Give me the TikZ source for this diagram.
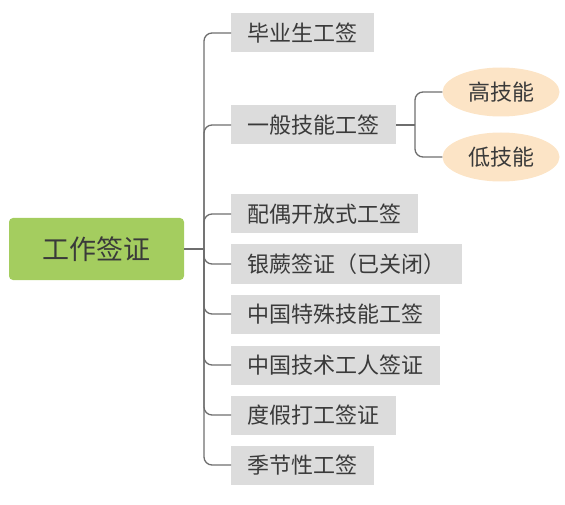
\documentclass[tikz,border=0pt]{standalone}
\usepackage{fontspec}
\setmainfont{Noto Sans CJK SC}
\usetikzlibrary{shapes.geometric}
\definecolor{rootgreen}{HTML}{A4CD5F}
\definecolor{boxgray}{HTML}{DCDCDC}
\definecolor{peach}{HTML}{FCE4C6}
\definecolor{txt}{HTML}{3A3A3A}
\definecolor{linegray}{HTML}{6E6E6E}
\begin{document}
\begin{tikzpicture}[x=1pt,y=-1pt,
  rootbox/.style={fill=rootgreen, rounded corners=4pt, minimum width=175pt, minimum height=62pt, inner sep=0pt, text=txt, font=\fontsize{27}{29}\selectfont},
  leafbox/.style={fill=boxgray, anchor=west, inner xsep=16.5pt, inner ysep=0pt, minimum height=39pt, text=txt, font=\fontsize{22}{24}\selectfont},
  oval/.style={ellipse, fill=peach, minimum width=117pt, minimum height=49pt, inner sep=0pt, text=txt, font=\fontsize{22}{24}\selectfont},
  conn/.style={draw=linegray, line width=1.3pt, rounded corners=8pt}]
\useasboundingbox (0,0) rectangle (565,505);
\node[rootbox] (root) at (96.5,249) {工作签证};
\node[leafbox] (b1) at (231,33) {毕业生工签};
\node[leafbox] (b2) at (231,125) {一般技能工签};
\node[leafbox] (b3) at (231,214) {配偶开放式工签};
\node[leafbox] (b4) at (231,264) {银蕨签证（已关闭）};
\node[leafbox] (b5) at (231,314) {中国特殊技能工签};
\node[leafbox] (b6) at (231,365) {中国技术工人签证};
\node[leafbox] (b7) at (231,415) {度假打工签证};
\node[leafbox] (b8) at (231,465) {季节性工签};
\node[oval] (e1) at (501,92) {高技能};
\node[oval] (e2) at (501,157) {低技能};
\coordinate (tr) at (204,249);
\coordinate (tr2) at (415,125);
\draw[conn] (root.east) -- (tr);
\foreach \b in {b1,b2,b3,b4,b5,b6,b7,b8}
  \draw[conn] (tr) |- (\b.west);
\draw[conn] (b2.east) -- (tr2);
\draw[conn] (tr2) |- (e1.west);
\draw[conn] (tr2) |- (e2.west);
\end{tikzpicture}
\end{document}
